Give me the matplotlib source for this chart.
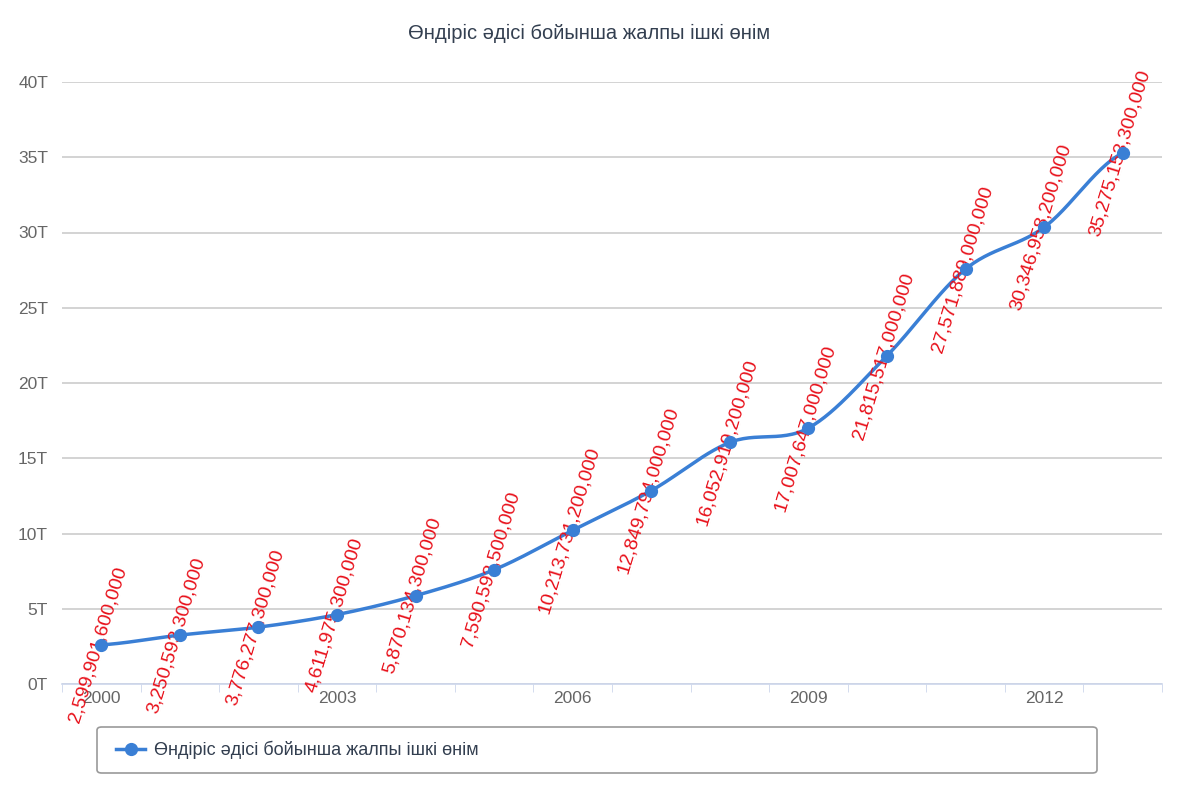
import numpy as np
import matplotlib.pyplot as plt
from matplotlib.patches import FancyBboxPatch

plt.rcParams['font.family'] = ['Liberation Sans', 'DejaVu Sans']

# data
years = [2000, 2001, 2002, 2003, 2004, 2005, 2006, 2007, 2008, 2009, 2010, 2011, 2012, 2013]
gdp = [2599901600000, 3250593300000, 3776277300000, 4611975300000, 5870134300000,
       7590593500000, 10213731200000, 12849794000000, 16052919200000, 17007647000000,
       21815517000000, 27571889000000, 30346958200000, 35275153300000]
yticks = [0, 5e12, 10e12, 15e12, 20e12, 25e12, 30e12, 35e12, 40e12]
ytick_labels = ['0T', '5T', '10T', '15T', '20T', '25T', '30T', '35T', '40T']
title = 'Өндіріс әдісі бойынша жалпы ішкі өнім'

blue = '#3a7fd5'


def smooth(x, y, steps=30, tension=0.5):
    # cardinal spline through the points, just for drawing the curve
    x = np.asarray(x, float)
    y = np.asarray(y, float)
    px = np.concatenate([[2 * x[0] - x[1]], x, [2 * x[-1] - x[-2]]])
    py = np.concatenate([[y[0]], y, [y[-1]]])
    xs, ys = [], []
    t = np.linspace(0, 1, steps)
    for i in range(1, len(px) - 2):
        m0x = tension * (px[i + 1] - px[i - 1])
        m1x = tension * (px[i + 2] - px[i])
        m0y = tension * (py[i + 1] - py[i - 1])
        m1y = tension * (py[i + 2] - py[i])
        h00 = 2 * t**3 - 3 * t**2 + 1
        h10 = t**3 - 2 * t**2 + t
        h01 = -2 * t**3 + 3 * t**2
        h11 = t**3 - t**2
        xs.append(h00 * px[i] + h10 * m0x + h01 * px[i + 1] + h11 * m1x)
        ys.append(h00 * py[i] + h10 * m0y + h01 * py[i + 1] + h11 * m1y)
    return np.concatenate(xs), np.concatenate(ys)


fig = plt.figure(figsize=(11.79, 8), dpi=100)
fig.patch.set_facecolor('white')
ax = fig.add_axes([62 / 1179, 1 - 684 / 800, 1100 / 1179, (684 - 82) / 800])

idx = np.arange(len(years))
sx, sy = smooth(idx, gdp)
ax.plot(sx, sy, color=blue, lw=2.5, zorder=3)
ax.plot(idx, gdp, 'o', color=blue, ms=8.5, zorder=5)

for i, v in zip(idx, gdp):
    ax.text(i - 0.04, v, f'{v:,}', rotation=73, color='#e8101a', fontsize=14,
            ha='center', va='center', rotation_mode='anchor', zorder=4)

ax.set_xlim(-0.5, len(years) - 0.5)
ax.set_ylim(0, 40e12)
ax.set_yticks(yticks)
ax.set_yticklabels(ytick_labels)
ax.set_xticks(idx[::3])
ax.set_xticklabels([str(y) for y in years[::3]])
ax.set_xticks(np.arange(-0.5, len(years)), minor=True)
ax.tick_params(axis='x', which='major', length=0, pad=5, labelsize=12.5, labelcolor='#666666')
ax.tick_params(axis='x', which='minor', length=6, color='#ccd6eb')
ax.tick_params(axis='y', length=0, pad=10, labelsize=12.5, labelcolor='#666666')
ax.grid(axis='y', color='#cccccc', lw=1.2)
ax.set_axisbelow(True)
for s in ['left', 'right', 'top']:
    ax.spines[s].set_visible(False)
ax.spines['bottom'].set_color('#ccd6eb')
ax.spines['bottom'].set_linewidth(1.2)

fig.text(0.5, 1 - 33 / 800, title, ha='center', va='center', fontsize=14.5, color='#333f50')

# legend box
box = FancyBboxPatch((97 / 1179, 1 - 773 / 800), 1000 / 1179, 46 / 800,
                     boxstyle='round,pad=0,rounding_size=0.004', transform=fig.transFigure,
                     facecolor='white', edgecolor='#999999', lw=1.2)
fig.add_artist(box)
fig.legend([plt.Line2D([], [], color=blue, lw=2.5, marker='o', ms=8.5)], [title],
           loc='center left', bbox_to_anchor=(100 / 1179, 1 - 750 / 800), frameon=False,
           fontsize=13, handlelength=1.6, handletextpad=0.5, labelcolor='#333f50')

fig.savefig('out.png', dpi=100)
